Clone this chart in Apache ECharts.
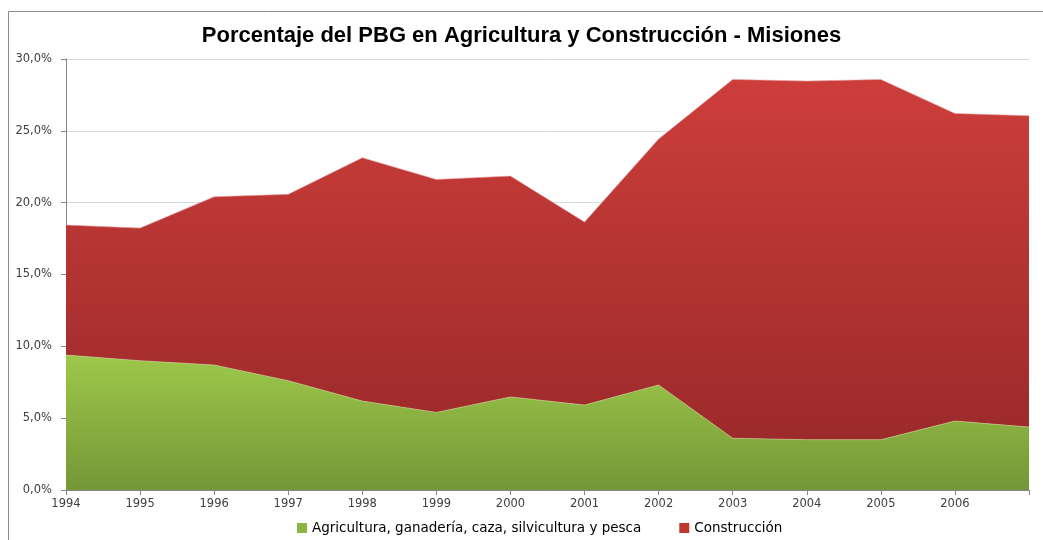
<!DOCTYPE html>
<html>
<head>
<meta charset="utf-8">
<script src="https://cdn.jsdelivr.net/npm/echarts@6/dist/echarts.min.js"></script>
<style>html,body{margin:0;padding:0;background:#fff}#c{width:1043px;height:540px}</style>
</head>
<body>
<div id="c"></div>
<script>
const years = ['1994','1995','1996','1997','1998','1999','2000','2001','2002','2003','2004','2005','2006','2007'];
const agricultura = [9.39, 9.0, 8.7, 7.61, 6.19, 5.4, 6.48, 5.91, 7.31, 3.6, 3.5, 3.5, 4.8, 4.38];
const construccion = [9.05, 9.23, 11.71, 12.97, 16.94, 16.22, 15.37, 12.74, 17.12, 24.98, 24.96, 25.08, 21.41, 21.67];
const yTicks = [0, 5, 10, 15, 20, 25, 30];
const seriesNames = ['Agricultura, ganadería, caza, silvicultura y pesca', 'Construcción'];
const titleText = 'Porcentaje del PBG en Agricultura y Construcción - Misiones';

const chart = echarts.init(document.getElementById('c'));
const grad = (a, b) => new echarts.graphic.LinearGradient(0, 0, 0, 1, [{offset: 0, color: a}, {offset: 1, color: b}]);
chart.setOption({
  animation: false,
  title: {
    text: titleText, left: 'center', top: 20,
    textStyle: {fontFamily: 'Liberation Sans', fontWeight: 'bold', fontSize: 22, color: '#000'}
  },
  graphic: [{
    type: 'rect', shape: {x: 8.5, y: 11.5, width: 1100, height: 600},
    style: {fill: 'none', stroke: '#8c8c8c', lineWidth: 1}, silent: true, z: 100
  }],
  legend: {
    bottom: 0, left: 292, itemWidth: 10, itemHeight: 10, itemGap: 38, icon: 'rect',
    textStyle: {fontFamily: 'DejaVu Sans', fontSize: 13.5, color: '#000'},
    data: seriesNames
  },
  grid: {left: 66, right: 14, top: 59, bottom: 50},
  xAxis: {
    type: 'category', data: years, boundaryGap: false,
    axisLine: {lineStyle: {color: '#868686'}},
    axisTick: {show: true, length: 5, lineStyle: {color: '#868686'}},
    axisLabel: {
      color: '#404040', fontFamily: 'DejaVu Sans', fontSize: 11.5, margin: 8,
      formatter: (v, i) => i === years.length - 1 ? '' : v
    }
  },
  yAxis: {
    type: 'value', min: yTicks[0], max: yTicks[yTicks.length - 1], interval: 5,
    axisLine: {show: true, lineStyle: {color: '#868686'}},
    axisTick: {show: true, length: 5, lineStyle: {color: '#868686'}},
    splitLine: {lineStyle: {color: '#d9d9d9'}},
    axisLabel: {
      color: '#404040', fontFamily: 'DejaVu Sans', fontSize: 11.5, margin: 14,
      formatter: v => v.toFixed(1).replace('.', ',') + '%'
    }
  },
  series: [
    {
      name: seriesNames[0], type: 'line', stack: 'tot', data: agricultura,
      symbol: 'none', lineStyle: {width: 1, color: '#c7d98e', opacity: 0.6},
      itemStyle: {color: '#8db443'},
      areaStyle: {opacity: 1, color: grad('#9dc84a', '#759637')}
    },
    {
      name: seriesNames[1], type: 'line', stack: 'tot', data: construccion,
      symbol: 'none', lineStyle: {width: 1, color: '#e8a0a0', opacity: 0.6},
      itemStyle: {color: '#c0392f'},
      areaStyle: {opacity: 1, color: grad('#cd3e3b', '#9c2a2a')}
    }
  ]
});
</script>
</body>
</html>
